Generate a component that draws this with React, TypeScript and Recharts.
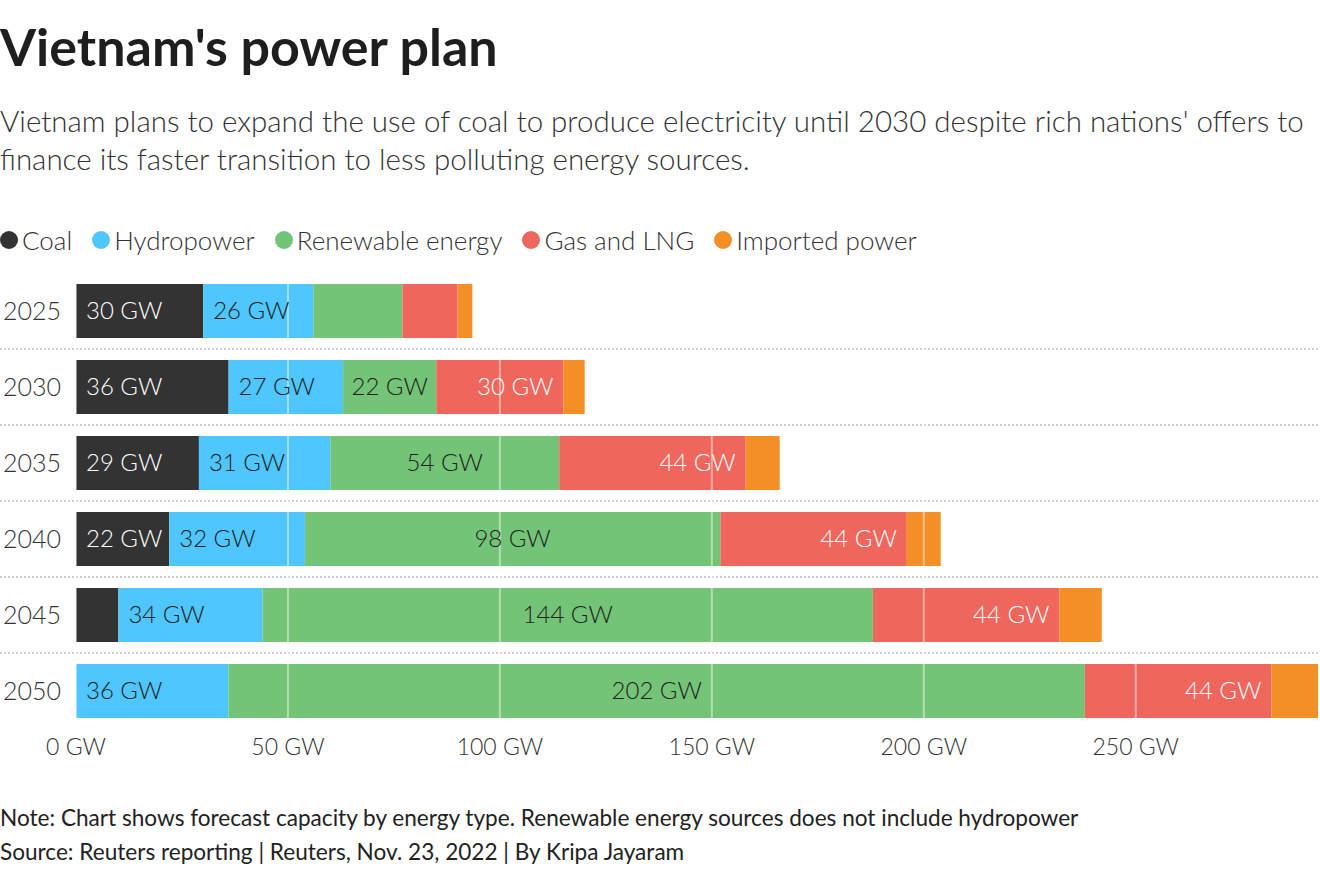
import React from 'react';
import { Bar, BarChart, CartesianGrid, LabelList, ReferenceLine, XAxis, YAxis } from 'recharts';

const years = ['2025', '2030', '2035', '2040', '2045', '2050'];
const coal = [30, 36, 29, 22, 10, 0];
const hydro = [26, 27, 31, 32, 34, 36];
const renewable = [21, 22, 54, 98, 144, 202];
const gas = [13, 30, 44, 44, 44, 44];
const imported = [3.5, 5, 8, 8, 10, 11];
const xTicks = [0, 50, 100, 150, 200, 250];

type Align = 'start' | 'middle' | 'end';

const series: Array<{ key: string; name: string; color: string; text: string; align: Align; values: number[] }> = [
  { key: 'coal', name: 'Coal', color: '#333333', text: '#ffffff', align: 'start', values: coal },
  { key: 'hydro', name: 'Hydropower', color: '#4fc6fd', text: '#222222', align: 'start', values: hydro },
  { key: 'renewable', name: 'Renewable energy', color: '#73c477', text: '#222222', align: 'middle', values: renewable },
  { key: 'gas', name: 'Gas and LNG', color: '#ee665c', text: '#ffffff', align: 'end', values: gas },
  { key: 'imported', name: 'Imported power', color: '#f48f27', text: '#ffffff', align: 'end', values: imported }
];

const data = years.map((year, i) => {
  const row: Record<string, number | string> = { year };
  series.forEach(s => {
    row[s.key] = s.values[i];
  });
  return row;
});

const FONT = 'Lato, "Source Sans Pro", "Noto Sans", sans-serif';
const MIN_LABEL = 22;

function SegmentLabel(props: any, align: Align, color: string) {
  const { x, y, width, height, value } = props;
  if (typeof value !== 'number' || value < MIN_LABEL) {
    return null;
  }
  const pad = 10;
  const tx = align === 'start' ? x + pad : align === 'end' ? x + width - pad : x + width / 2;
  return (
    <text
      x={tx}
      y={y + height / 2}
      dy="0.35em"
      textAnchor={align}
      fill={color}
      fontSize={24}
      fontWeight={300}
      fontFamily={FONT}
    >
      {`${value} GW`}
    </text>
  );
}

function YearTick({ y, payload }: any) {
  return (
    <text x={3} y={y} dy="0.35em" textAnchor="start" fill="#333" fontSize={25} fontWeight={300} fontFamily={FONT}>
      {payload.value}
    </text>
  );
}

export default function App() {
  return (
    <div
      style={{
        position: 'absolute',
        left: 0,
        top: 0,
        width: 1320,
        height: 870,
        background: '#fff',
        fontFamily: FONT,
        color: '#333'
      }}
    >
      <div style={{ position: 'absolute', left: 0, top: 14, fontSize: 52, fontWeight: 700, color: '#1e1e1e', lineHeight: '64px' }}>
        Vietnam's power plan
      </div>
      <div
        style={{
          position: 'absolute',
          left: 0,
          top: 102,
          width: 1320,
          fontSize: 29.5,
          fontWeight: 300,
          lineHeight: '38px',
          color: '#333'
        }}
      >
        Vietnam plans to expand the use of coal to produce electricity until 2030 despite rich nations' offers to finance its
        faster transition to less polluting energy sources.
      </div>

      <div style={{ position: 'absolute', left: 0, top: 224, display: 'flex', alignItems: 'center', gap: 20 }}>
        {series.map(s => (
          <div key={s.key} style={{ display: 'flex', alignItems: 'center', gap: 4, fontSize: 26, fontWeight: 300, color: '#333' }}>
            <span style={{ width: 18, height: 18, borderRadius: 9, background: s.color, display: 'inline-block' }} />
            <span>{s.name}</span>
          </div>
        ))}
      </div>

      <div style={{ position: 'absolute', left: 0, top: 273 }}>
        <BarChart
          width={1320}
          height={510}
          data={data}
          layout="vertical"
          margin={{ top: 0, right: 2, bottom: 0, left: 0 }}
          barSize={54}
        >
          <CartesianGrid
            vertical={false}
            x={0}
            width={1318}
            stroke="#cfcfcf"
            strokeWidth={2}
            strokeDasharray="2 2"
            horizontalCoordinatesGenerator={({ offset }: any) =>
              [1, 2, 3, 4, 5].map(i => offset.top + (i * offset.height) / years.length)
            }
          />
          <XAxis
            type="number"
            domain={[0, 293]}
            ticks={xTicks}
            tickFormatter={(v: number) => `${v} GW`}
            axisLine={false}
            tickLine={false}
            height={54}
            tick={{ fill: '#333', fontSize: 23, fontWeight: 300, fontFamily: FONT }}
            tickMargin={4}
          />
          <YAxis type="category" dataKey="year" width={76} axisLine={false} tickLine={false} tick={<YearTick />} />
          {series.map(s => (
            <Bar key={s.key} dataKey={s.key} name={s.name} stackId="power" fill={s.color} isAnimationActive={false}>
              <LabelList dataKey={s.key} content={(p: any) => SegmentLabel(p, s.align, s.text)} />
            </Bar>
          ))}
          {xTicks.map(t => (
            <ReferenceLine key={t} x={t} stroke="#ffffff" strokeOpacity={0.45} strokeWidth={2} />
          ))}
        </BarChart>
      </div>

      <div style={{ position: 'absolute', left: 0, top: 801, fontSize: 22.6, color: '#222', lineHeight: '34px' }}>
        <div>Note: Chart shows forecast capacity by energy type. Renewable energy sources does not include hydropower</div>
        <div>Source: Reuters reporting | Reuters, Nov. 23, 2022 | By Kripa Jayaram</div>
      </div>
    </div>
  );
}
